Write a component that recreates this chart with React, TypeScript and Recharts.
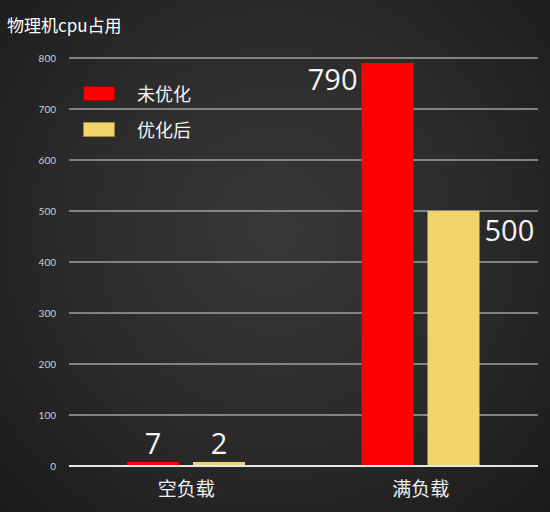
import { BarChart, Bar, XAxis, YAxis, CartesianGrid, LabelList } from 'recharts'

const categories = ['空负载', '满负载']
const beforeValues = [7, 790]
const afterValues = [2, 500]
const yTicks = [0, 100, 200, 300, 400, 500, 600, 700, 800]
const seriesNames = ['未优化', '优化后']
const seriesColors = ['#ff0000', '#f2d46b']

const data = categories.map((name, i) => ({
  name,
  before: beforeValues[i],
  after: afterValues[i],
}))

const CJK = '"Noto Sans CJK SC", "Noto Sans", sans-serif'

// 数值标签：空负载在柱顶，满负载分别放在左/右侧
function makeLabel(side: 'left' | 'right') {
  return function ValueLabel(props: any) {
    const { x, y, width, value, index } = props
    const common = { fill: '#f4f4f4', fontSize: 29, fontFamily: '"Open Sans", sans-serif' }
    if (index === 0) {
      return (
        <text x={x + width / 2} y={y - 8} textAnchor="middle" {...common}>
          {value}
        </text>
      )
    }
    if (side === 'left') {
      return (
        <text x={x - 4} y={y + 27} textAnchor="end" {...common}>
          {value}
        </text>
      )
    }
    return (
      <text x={x + width + 5} y={y + 30} textAnchor="start" {...common}>
        {value}
      </text>
    )
  }
}

function LegendBox() {
  return (
    <div style={{ position: 'absolute', left: 83, top: 75 }}>
      {seriesNames.map((name, i) => (
        <div key={name} style={{ display: 'flex', alignItems: 'center', height: 36 }}>
          <div
            style={{
              width: 32,
              height: 15,
              background: seriesColors[i],
              boxSizing: 'border-box',
              border: '1px solid rgba(0,0,0,0.35)',
            }}
          />
          <span style={{ marginLeft: 22, color: '#f2f2f2', fontSize: 18, fontFamily: CJK }}>{name}</span>
        </div>
      ))}
    </div>
  )
}

export default function App() {
  return (
    <div
      style={{
        position: 'absolute',
        left: 0,
        top: 0,
        width: 550,
        height: 512,
        background: 'radial-gradient(ellipse at 50% 45%, #383838 0%, #2a2a2a 55%, #1a1a1a 100%)',
        overflow: 'hidden',
      }}
    >
      <div
        style={{
          position: 'absolute',
          left: 7,
          top: 12,
          color: '#ffffff',
          fontSize: 17,
          fontFamily: CJK,
        }}
      >
        物理机cpu占用
      </div>
      <BarChart
        width={550}
        height={512}
        data={data}
        margin={{ top: 58, right: 12, bottom: 0, left: 0 }}
        barGap={14}
        barSize={52}
      >
        <CartesianGrid horizontal vertical={false} stroke="#a0a0a0" strokeWidth={1.5} />
        <XAxis
          dataKey="name"
          height={46}
          axisLine={{ stroke: '#e6e6e6', strokeWidth: 2 }}
          tickLine={false}
          tickMargin={11}
          tick={{ fill: '#efefef', fontSize: 19, fontFamily: CJK }}
        />
        <YAxis
          width={69}
          domain={[0, 800]}
          ticks={yTicks}
          axisLine={false}
          tickLine={false}
          tickMargin={7}
          tick={{ fill: '#cfcfcf', fontSize: 10, fontFamily: 'Lato, sans-serif' }}
        />
        <Bar dataKey="before" name={seriesNames[0]} fill={seriesColors[0]} minPointSize={4} isAnimationActive={false}>
          <LabelList dataKey="before" content={makeLabel('left')} />
        </Bar>
        <Bar dataKey="after" name={seriesNames[1]} fill={seriesColors[1]} minPointSize={4} isAnimationActive={false}>
          <LabelList dataKey="after" content={makeLabel('right')} />
        </Bar>
      </BarChart>
      <LegendBox />
    </div>
  )
}
